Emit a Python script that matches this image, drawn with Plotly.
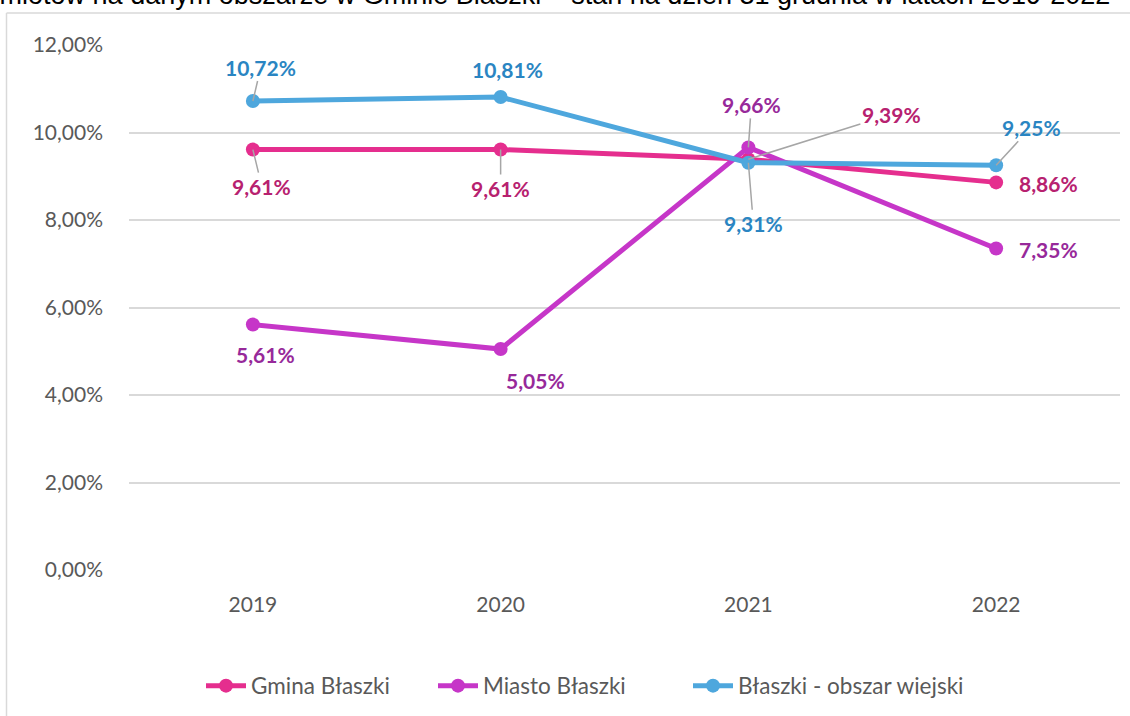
import plotly.graph_objects as go

years = ["2019", "2020", "2021", "2022"]
gmina = [9.61, 9.61, 9.39, 8.86]
miasto = [5.61, 5.05, 9.66, 7.35]
wies = [10.72, 10.81, 9.31, 9.25]
series_names = ["Gmina Błaszki", "Miasto Błaszki", "Błaszki - obszar wiejski"]
y_ticks = [0, 2, 4, 6, 8, 10, 12]
title_text = "Udział podmiotów na danym obszarze w Gminie Błaszki – stan na dzień 31 grudnia w latach 2019-2022"

PCT = "&#37;"

line_colors = ["#E52E8E", "#C636C8", "#4EA7DD"]
label_colors = ["#B7216F", "#97299A", "#2A85C2"]

# label offsets (px) and whether a leader line is drawn
offsets = {
    0: [(9, 37, True), (0, 39, True), (143, -45, True), (52, 1, False)],
    1: [(13, 30, False), (35, 31, False), (3, -43, True), (52, 1, False)],
    2: [(8, -34, True), (7, -28, False), (5, 61, True), (35, -38, True)],
}
legend_left_px = [201, 433, 688]

W, H = 1130, 716
L, R, T, B = 129, 10, 45, 145
pw, ph = W - L - R, H - T - B


def px2paper_x(px):
    return (px - L) / pw


def px2paper_y(py):
    return (H - B - py) / ph


def fmt(v):
    return f"{v:.2f}".replace(".", ",") + PCT


xpos = list(range(len(years)))
legend_ids = ["legend", "legend2", "legend3"]

fig = go.Figure()
all_series = [gmina, miasto, wies]
for i, vals in enumerate(all_series):
    fig.add_trace(go.Scatter(
        x=xpos, y=vals, name=series_names[i], mode="lines+markers",
        line=dict(color=line_colors[i], width=5),
        marker=dict(color=line_colors[i], size=14),
        legend=legend_ids[i],
    ))

annotations = []
for i, vals in enumerate(all_series):
    for j, v in enumerate(vals):
        ax, ay, leader = offsets[i][j]
        annotations.append(dict(
            x=xpos[j], y=v, xref="x", yref="y", text=fmt(v),
            showarrow=True, ax=ax, ay=ay, arrowhead=0, arrowwidth=1.5,
            arrowcolor="#A6A6A6" if leader else "rgba(255,255,255,0)",
            font=dict(family="Lato", size=21, color=label_colors[i], weight="bold"),
        ))

annotations.append(dict(
    x=px2paper_x(1112), y=px2paper_y(12), xref="paper", yref="paper",
    xanchor="right", yanchor="bottom", showarrow=False, text=title_text,
    font=dict(family="Liberation Sans, Arial", size=27, color="#000000"),
))

shapes = [
    dict(type="line", xref="paper", yref="paper",
         x0=px2paper_x(6.5), x1=px2paper_x(6.5), y0=px2paper_y(W), y1=px2paper_y(13),
         line=dict(color="#D9D9D9", width=1.5)),
    dict(type="line", xref="paper", yref="paper",
         x0=px2paper_x(6.5), x1=px2paper_x(1135), y0=px2paper_y(13), y1=px2paper_y(13),
         line=dict(color="#D9D9D9", width=1.5)),
]

legend_common = dict(orientation="h", xanchor="left", y=px2paper_y(686), yanchor="middle",
                     font=dict(family="Lato", size=22.5, color="#595959"),
                     itemwidth=40, bgcolor="rgba(0,0,0,0)", borderwidth=0)

fig.update_layout(
    width=W, height=H,
    margin=dict(l=L, r=R, t=T, b=B),
    paper_bgcolor="white", plot_bgcolor="white",
    font=dict(family="Lato", size=21, color="#595959"),
    showlegend=True,
    legend=dict(x=px2paper_x(legend_left_px[0]), **legend_common),
    legend2=dict(x=px2paper_x(legend_left_px[1]), **legend_common),
    legend3=dict(x=px2paper_x(legend_left_px[2]), **legend_common),
    annotations=annotations,
    shapes=shapes,
)
fig.update_xaxes(range=[-0.5, 3.5], tickmode="array", tickvals=xpos, ticktext=years,
                 showgrid=False, zeroline=False,
                 showline=False, ticks="", ticklabelstandoff=20,
                 tickfont=dict(family="Lato", size=21, color="#595959"))
fig.update_yaxes(range=[0, 12], tickmode="array", tickvals=y_ticks,
                 ticktext=[f"{t:.2f}".replace(".", ",") + PCT for t in y_ticks],
                 showgrid=True, gridcolor="#D9D9D9", gridwidth=1.5, zeroline=False,
                 showline=False, ticks="", ticklabelstandoff=25,
                 tickfont=dict(family="Lato", size=21, color="#595959"))

fig.write_html("out.html", config={"displayModeBar": False},
               post_script="document.body.style.margin='0px';")
